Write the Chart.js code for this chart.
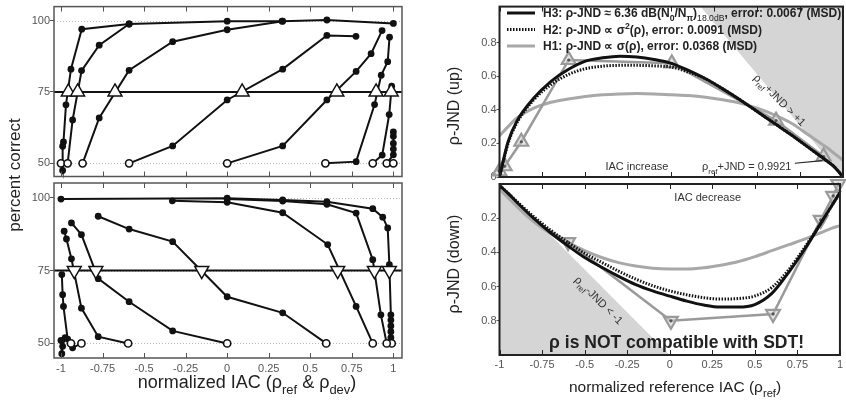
<!DOCTYPE html>
<html>
<head>
<meta charset="utf-8">
<script src="https://cdn.jsdelivr.net/npm/chart.js@4.4.1/dist/chart.umd.min.js"></script>
<style>
  html, body { margin: 0; padding: 0; background: #fff; }
  #wrap { position: relative; width: 846px; height: 403px; background: #fff; }
  #wrap canvas { position: absolute; left: 0; top: 0; }
</style>
</head>
<body>
<div id="wrap">
  <canvas id="chart_inc" width="846" height="403"></canvas>
  <canvas id="chart_dec" width="846" height="403"></canvas>
  <canvas id="chart_up" width="846" height="403"></canvas>
  <canvas id="chart_down" width="846" height="403"></canvas>
</div>
<script>
// ---- ticks
var xTicks = [-1, -0.75, -0.5, -0.25, 0, 0.25, 0.5, 0.75, 1];
var pcTicks = [50, 75, 100];
var jndTicksUp = [0, 0.2, 0.4, 0.6, 0.8];
var jndTicksDown = [0.2, 0.4, 0.6, 0.8];
var threshold = 75;

// ---- IAC increase, one psychometric function per reference (first point = reference)
var incX = [
  [-1, -0.99, -0.99, -0.985, -0.97, -0.94, -0.875, -0.59, 0, 0.33, 0.6, 1],
  [-0.96, -0.93, -0.876, -0.77, -0.59],
  [-0.87, -0.77, -0.59, -0.328, 0, 0.334],
  [-0.59, -0.328, 0, 0.334, 0.6, 0.775],
  [0, 0.334, 0.6, 0.776, 0.866, 0.932],
  [0.591, 0.776, 0.887, 0.927, 0.966, 0.977],
  [0.876, 0.933, 0.975, 0.99],
  [0.96, 1, 1, 1, 1, 1],
  [1]
];
var incPC = [
  [50, 47.5, 56, 57.5, 70.5, 83, 97, 98.8, 99.8, 99.8, 100.2, 99],
  [50, 65.2, 82.5, 91.4, 98.8],
  [50, 65.9, 82.6, 92.6, 96.8, 99.8],
  [50, 56.1, 72.2, 83, 94.8, 94.5],
  [50, 56.1, 72.2, 82.2, 88.4, 96.5],
  [50, 50.6, 70.6, 80.9, 85.6, 94.2],
  [50, 52.9, 67.1, 77],
  [50, 53, 55, 57, 59.5, 61],
  [50]
];
var incThr = [-0.956, -0.9, -0.675, 0.09, 0.66, 0.896, 0.987];

// ---- IAC decrease
var decX = [
  [0.99, 0.985, 0.985, 0.985, 0.985, 0.985, 0.976, 0.966, 0.936, 0.876, 0.6, 0.334, 0, -1],
  [0.96, 0.925, 0.876, 0.776, 0.6, 0.334, 0],
  [0.876, 0.776, 0.605, 0.334, 0, -0.33],
  [0.596, 0.334, 0, -0.328, -0.59, -0.776],
  [0, -0.328, -0.59, -0.776, -0.877, -0.937],
  [-0.596, -0.776, -0.877, -0.937, -0.967, -0.981],
  [-0.877, -0.93, -0.96, -0.985, -0.99, -0.995],
  [-0.94, -0.975, -0.99, -0.995, -1]
];
var decPC = [
  [50, 52, 54, 56, 58, 59.8, 77, 89.6, 93.3, 96.2, 98.6, 99.2, 99.8, 99.5],
  [50, 59.8, 78.7, 94.7, 97.7, 98.8, 99.5],
  [50, 62.7, 83.9, 94.8, 98.4, 98.9],
  [50, 60.5, 66, 84.9, 89.2, 93.6],
  [50, 54.3, 64.3, 72.2, 87.3, 91.3],
  [50, 52.3, 62.1, 79, 85.8, 88.5],
  [50, 48.5, 51.5, 62.7, 66.7, 73.6],
  [50, 52, 49, 46.5, 51]
];
var decThr = [-0.92, -0.79, -0.153, 0.665, 0.886, 0.976];

// ---- rho-JND measured
var upRef = [-1, -0.97, -0.873, -0.597, 0.003, 0.61, 0.887, 0.995];
var upJnd = [0.034, 0.064, 0.21, 0.697, 0.677, 0.336, 0.122, 0.01];
var upMarked = [1, 1, 1, 1, 1, 1, 1, 0];
var downRef = [-0.772, -0.597, 0.007, 0.607, 0.887, 0.96, 0.99];
var downJnd = [0.233, 0.34, 0.8, 0.76, 0.21, 0.07, 0.0];
var downMarked = [0, 1, 1, 1, 1, 1, 1];

// ---- model fits
var fitX = [-1, -0.95, -0.9, -0.8, -0.7, -0.6, -0.5, -0.4, -0.3, -0.2, -0.1, 0, 0.1, 0.2, 0.3, 0.4, 0.5, 0.6, 0.7, 0.8, 0.9, 0.95, 1];
var h3Up = [0, 0.21, 0.33, 0.47, 0.57, 0.64, 0.69, 0.71, 0.72, 0.715, 0.7, 0.677, 0.635, 0.585, 0.525, 0.46, 0.39, 0.32, 0.25, 0.175, 0.1, 0.06, 0];
var h2Up = [0, 0.2, 0.32, 0.46, 0.55, 0.61, 0.645, 0.66, 0.665, 0.665, 0.662, 0.655, 0.625, 0.585, 0.525, 0.46, 0.39, 0.32, 0.25, 0.175, 0.1, 0.06, 0];
var h1Up = [0.245, 0.3, 0.35, 0.41, 0.445, 0.465, 0.48, 0.49, 0.495, 0.497, 0.495, 0.49, 0.485, 0.475, 0.46, 0.44, 0.41, 0.37, 0.32, 0.25, 0.18, 0.14, 0.1];
var h3Down = [0.008, 0.055, 0.105, 0.2, 0.285, 0.36, 0.43, 0.487, 0.54, 0.588, 0.625, 0.656, 0.685, 0.708, 0.72, 0.72, 0.705, 0.64, 0.515, 0.37, 0.21, 0.13, 0.05];
var h2Down = [0.008, 0.052, 0.1, 0.19, 0.27, 0.34, 0.405, 0.458, 0.51, 0.556, 0.595, 0.625, 0.648, 0.665, 0.673, 0.67, 0.655, 0.605, 0.5, 0.36, 0.21, 0.13, 0.05];
var h1Down = [0.03, 0.08, 0.13, 0.22, 0.29, 0.34, 0.39, 0.43, 0.46, 0.48, 0.493, 0.497, 0.497, 0.49, 0.475, 0.455, 0.425, 0.39, 0.355, 0.32, 0.28, 0.26, 0.243];

// ---- regions where rho_ref +/- JND leaves [-1, 1]
var upShadeX = [0.17, 1];
var upShadeY = [1.015, 0];
var downShadeX = [-1, 0];
var downShadeY = [0, 1];
var pointerUp = [[0.72, 0.082], [0.88, 0.098]];

var FONT = '"Liberation Sans", Arial, Helvetica, sans-serif';
Chart.defaults.font.family = FONT;
Chart.defaults.color = '#555';

function pts(xs, ys) {
    return xs.map(function (v, i) { return {x: v, y: ys[i]}; });
}

// texto con subindices / superindices
function drawRuns(ctx, runs, x, y, size, bold, align) {
    var parts = [], total = 0;
    runs.forEach(function (r) {
        var small = r[1] === 'sub' || r[1] === 'sup';
        var s = small ? size * 0.72 : size;
        ctx.font = (bold && !r[2] ? 'bold ' : '') + s + 'px ' + FONT;
        var w = ctx.measureText(r[0]).width;
        parts.push({t: r[0], font: ctx.font, w: w, dy: r[1] === 'sub' ? size * 0.32 : (r[1] === 'sup' ? -size * 0.38 : 0)});
        total += w;
    });
    var cx = align === 'center' ? x - total / 2 : (align === 'right' ? x - total : x);
    parts.forEach(function (p) {
        ctx.font = p.font;
        ctx.fillText(p.t, cx, y + p.dy);
        cx += p.w;
    });
}

var decor = {};

var panelDecor = {
    id: 'panelDecor',
    beforeDatasetsDraw: function (chart) {
        var d = decor[chart.canvas.id], ctx = chart.ctx, a = chart.chartArea, sy = chart.scales.y;
        ctx.save();
        if (d.grid) {
            ctx.strokeStyle = '#bbb';
            ctx.lineWidth = 1;
            ctx.setLineDash([1, 2]);
            sy.ticks.forEach(function (t) {
                var py = Math.round(sy.getPixelForValue(t.value)) + 0.5;
                ctx.beginPath(); ctx.moveTo(a.left, py); ctx.lineTo(a.right, py); ctx.stroke();
            });
            ctx.setLineDash([]);
        }
        if (d.threshold !== undefined) {
            var ty = sy.getPixelForValue(d.threshold);
            ctx.strokeStyle = '#111';
            ctx.lineWidth = 2;
            ctx.beginPath(); ctx.moveTo(a.left, ty); ctx.lineTo(a.right, ty); ctx.stroke();
        }
        ctx.restore();
    },
    afterDatasetsDraw: function (chart) {
        var d = decor[chart.canvas.id], ctx = chart.ctx, a = chart.chartArea, sx = chart.scales.x;
        ctx.save();
        ctx.strokeStyle = d.frameColor;
        ctx.lineWidth = 1;
        sx.ticks.forEach(function (t) {
            var px = Math.round(sx.getPixelForValue(t.value)) + 0.5;
            ctx.beginPath();
            ctx.moveTo(px, a.top); ctx.lineTo(px, a.top + 5);
            ctx.moveTo(px, a.bottom); ctx.lineTo(px, a.bottom - 5);
            ctx.stroke();
        });
        ctx.lineWidth = d.frameWidth;
        ctx.strokeRect(a.left, a.top, a.right - a.left, a.bottom - a.top);
        ctx.restore();
    },
    afterDraw: function (chart) {
        var d = decor[chart.canvas.id], ctx = chart.ctx;
        var sx = chart.scales.x, sy = chart.scales.y;
        ctx.save();
        if (d.pointer) {
            ctx.strokeStyle = '#222';
            ctx.lineWidth = 1.2;
            ctx.beginPath();
            d.pointer.forEach(function (p, i) {
                var px = sx.getPixelForValue(p[0]), py = sy.getPixelForValue(p[1]);
                if (i === 0) ctx.moveTo(px, py); else ctx.lineTo(px, py);
            });
            ctx.stroke();
        }
        if (d.legend) {
            var L = d.legend;
            L.items.forEach(function (it, i) {
                var y = L.y + i * L.dy;
                ctx.strokeStyle = it.color;
                ctx.lineWidth = it.width;
                ctx.setLineDash(it.dash || []);
                ctx.beginPath(); ctx.moveTo(L.x, y); ctx.lineTo(L.x + 28, y); ctx.stroke();
                ctx.setLineDash([]);
                ctx.fillStyle = '#222';
                ctx.textAlign = 'left';
                ctx.textBaseline = 'alphabetic';
                drawRuns(ctx, it.runs, L.x + 36, y + 4, L.size, true, 'left');
            });
        }
        (d.texts || []).forEach(function (t) {
            var x = t.x, y = t.y;
            if (t.data) { x = sx.getPixelForValue(t.x); y = sy.getPixelForValue(t.y); }
            ctx.save();
            ctx.fillStyle = t.color || '#222';
            ctx.translate(x, y);
            if (t.rot) ctx.rotate(t.rot * Math.PI / 180);
            ctx.textAlign = 'left';
            ctx.textBaseline = 'alphabetic';
            drawRuns(ctx, t.runs, 0, t.size * 0.36, t.size, t.bold, t.align || 'center');
            ctx.restore();
        });
        ctx.restore();
    }
};

function makeScales(o) {
    return {
        x: {
            type: 'linear', min: o.xMin, max: o.xMax,
            afterBuildTicks: function (ax) { ax.ticks = xTicks.map(function (v) { return {value: v}; }); },
            afterFit: function (ax) { ax.height = o.xH; },
            grid: {display: false, drawTicks: false},
            border: {display: false},
            ticks: {
                display: o.xLabels, padding: o.xPad, color: '#555', autoSkip: false, maxRotation: 0,
                font: {size: 11}, callback: function (v) { return String(v); }
            }
        },
        y: {
            type: 'linear', min: o.yMin, max: o.yMax, reverse: !!o.reverse,
            afterBuildTicks: function (ax) { ax.ticks = o.yTicks.map(function (v) { return {value: v}; }); },
            afterFit: function (ax) { ax.width = 40; },
            grid: {display: true, drawOnChartArea: false, drawTicks: true, tickLength: o.tickLen, color: '#555'},
            border: {display: false},
            ticks: {padding: 0, color: '#555', font: {size: 11}, callback: function (v) { return String(v); }}
        }
    };
}

function baseOptions(o) {
    return {
        responsive: false,
        animation: false,
        devicePixelRatio: 1,
        events: [],
        layout: {autoPadding: false, padding: o.padding},
        plugins: {legend: {display: false}, tooltip: {enabled: false}},
        scales: makeScales(o)
    };
}

function psychDatasets(xs, pcs, thr, rot) {
    var sets = [];
    sets.push({
        data: thr.map(function (v) { return {x: v, y: threshold}; }),
        showLine: false, pointStyle: 'triangle', rotation: rot, pointRadius: 8,
        pointBackgroundColor: '#fff', pointBorderColor: '#111', pointBorderWidth: 1.5,
        clip: false, order: 0
    });
    sets.push({
        data: xs.map(function (c, i) { return {x: c[0], y: pcs[i][0]}; }),
        showLine: false, pointRadius: 3.6, pointBackgroundColor: '#fff',
        pointBorderColor: '#111', pointBorderWidth: 1.6, clip: false, order: 1
    });
    xs.forEach(function (c, i) {
        sets.push({
            data: pts(c, pcs[i]), showLine: true, borderColor: '#111', borderWidth: 2,
            pointRadius: 3.4, pointBackgroundColor: '#111', pointBorderColor: '#111', pointBorderWidth: 0,
            clip: false, order: 2
        });
    });
    return sets;
}

function jndDatasets(refs, jnd, marked, rot, h1, h2, h3, shX, shY, shFill) {
    return [
        {data: pts(fitX, h3), showLine: true, borderColor: '#111', borderWidth: 3, pointRadius: 0,
         cubicInterpolationMode: 'monotone', order: 1},
        {data: pts(fitX, h2), showLine: true, borderColor: '#111', borderWidth: 3, borderDash: [1.5, 1.5],
         pointRadius: 0, cubicInterpolationMode: 'monotone', order: 2},
        {data: pts(refs, jnd), showLine: false, pointRadius: function (c) { return marked[c.dataIndex] ? 1.6 : 0; },
         pointBackgroundColor: '#555', pointBorderWidth: 0, clip: false, order: 3},
        {data: pts(refs, jnd), showLine: true, borderColor: '#9a9a9a', borderWidth: 2.5,
         pointStyle: 'triangle', rotation: rot,
         pointRadius: function (c) { return marked[c.dataIndex] ? 8 : 0; },
         pointBackgroundColor: 'rgba(205,205,205,0.55)', pointBorderColor: '#9a9a9a', pointBorderWidth: 2.2,
         clip: false, order: 4},
        {data: pts(fitX, h1), showLine: true, borderColor: '#a8a8a8', borderWidth: 3, pointRadius: 0,
         cubicInterpolationMode: 'monotone', order: 5},
        {data: pts(shX, shY), showLine: true, borderWidth: 0, borderColor: 'rgba(0,0,0,0)', pointRadius: 0,
         fill: {value: shFill}, backgroundColor: '#d5d5d5', order: 10}
    ];
}

// ---- panel decorations
decor.chart_inc = {
    grid: true, threshold: threshold, frameColor: '#555', frameWidth: 1.5,
    texts: [
        {x: 14, y: 175, rot: -90, size: 17, runs: [['percent correct']]}
    ]
};
decor.chart_dec = {
    grid: true, threshold: threshold, frameColor: '#555', frameWidth: 1.5,
    texts: [
        {x: 247, y: 382, size: 18, runs: [['normalized IAC ('], ['\u03c1'], ['ref', 'sub'], [' & '], ['\u03c1'], ['dev', 'sub'], [')']]}
    ]
};
decor.chart_up = {
    frameColor: '#222', frameWidth: 2, pointer: pointerUp,
    legend: {
        x: 507, y: 13, dy: 16.5, size: 12,
        items: [
            {color: '#111', width: 3, runs: [['H3: \u03c1-JND \u2248 6.36 dB(N'], ['0', 'sub'], ['/N'], ['\u03c0', 'sub'], [')'], ['18.0dB', 'sub', 1], [', error: 0.0067 (MSD)']]},
            {color: '#111', width: 3, dash: [1.5, 1.5], runs: [['H2: \u03c1-JND \u221d \u03c3'], ['2', 'sup'], ['(\u03c1), error: 0.0091 (MSD)']]},
            {color: '#a8a8a8', width: 3, runs: [['H1: \u03c1-JND \u221d \u03c3(\u03c1), error: 0.0368 (MSD)']]}
        ]
    },
    texts: [
        {x: 453, y: 106, rot: -90, size: 16, runs: [['\u03c1-JND (up)']]},
        {x: -0.2, y: 0.065, data: true, size: 11, color: '#333', runs: [['IAC increase']]},
        {x: 0.7, y: 0.065, data: true, size: 11, color: '#333', align: 'right', runs: [['\u03c1'], ['ref', 'sub'], ['+JND = 0.9921']]},
        {x: 0.633, y: 0.46, data: true, size: 11, color: '#333', rot: 45, runs: [['\u03c1'], ['ref', 'sub'], ['+JND > +1']]}
    ]
};
decor.chart_down = {
    frameColor: '#222', frameWidth: 2,
    texts: [
        {x: 453, y: 264, rot: -90, size: 16, runs: [['\u03c1-JND (down)']]},
        {x: 675, y: 386, size: 15.5, runs: [['normalized reference IAC ('], ['\u03c1'], ['ref', 'sub'], [')']]},
        {x: 0.223, y: 0.076, data: true, size: 11, color: '#333', runs: [['IAC decrease']]},
        {x: -0.415, y: 0.678, data: true, size: 11, color: '#333', rot: 45, runs: [['\u03c1'], ['ref', 'sub'], ['-JND < -1']]},
        {x: 0.04, y: 0.92, data: true, size: 17.5, bold: true, color: '#222', runs: [['\u03c1 is NOT compatible with SDT!']]}
    ]
};

// ---- charts
new Chart(document.getElementById('chart_inc'), {
    type: 'scatter',
    data: {datasets: psychDatasets(incX, incPC, incThr, 0)},
    options: baseOptions({padding: {left: 14, right: 444, top: 4, bottom: 226.5}, xMin: -1.042, xMax: 1.052,
        yMin: 45.4, yMax: 104.9, yTicks: pcTicks, xH: 0, xLabels: false, xPad: 0, tickLen: 4}),
    plugins: [panelDecor]
});

new Chart(document.getElementById('chart_dec'), {
    type: 'scatter',
    data: {datasets: psychDatasets(decX, decPC, decThr, 180)},
    options: baseOptions({padding: {left: 14, right: 444, top: 183, bottom: 15}, xMin: -1.042, xMax: 1.052,
        yMin: 45, yMax: 105, yTicks: pcTicks, xH: 30, xLabels: true, xPad: 4, tickLen: 4}),
    plugins: [panelDecor]
});

new Chart(document.getElementById('chart_up'), {
    type: 'scatter',
    data: {datasets: jndDatasets(upRef, upJnd, upMarked, 0, h1Up, h2Up, h3Up, upShadeX, upShadeY, 1.015)},
    options: baseOptions({padding: {left: 459.5, right: 3, top: 4, bottom: 226}, xMin: -1, xMax: 1,
        yMin: 0, yMax: 1.015, yTicks: jndTicksUp, xH: 0, xLabels: false, xPad: 0, tickLen: 3}),
    plugins: [panelDecor]
});

new Chart(document.getElementById('chart_down'), {
    type: 'scatter',
    data: {datasets: jndDatasets(downRef, downJnd, downMarked, 180, h1Down, h2Down, h3Down, downShadeX, downShadeY, 1)},
    options: baseOptions({padding: {left: 459.5, right: 3, top: 184, bottom: 18}, xMin: -1, xMax: 1,
        yMin: 0, yMax: 1, reverse: true, yTicks: jndTicksDown, xH: 30, xLabels: true, xPad: 3, tickLen: 3}),
    plugins: [panelDecor]
});
</script>
</body>
</html>
